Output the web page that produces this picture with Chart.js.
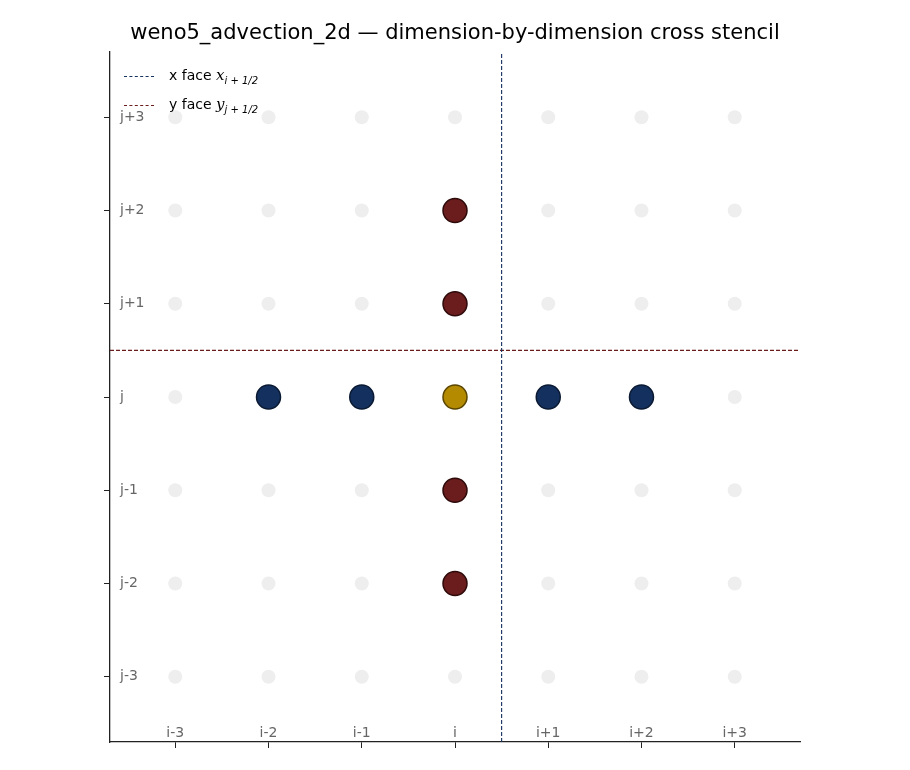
<!DOCTYPE html>
<html><head><meta charset="utf-8">
<script src="https://cdn.jsdelivr.net/npm/chart.js@4"></script>
<style>
body{margin:0;background:#fff;font-family:"DejaVu Sans",sans-serif}
#wrap{position:relative;width:910px;height:770px}
#title{position:absolute;left:0;width:910px;top:20px;text-align:center;font-size:21px;color:#000}
#leg{position:absolute;left:124px;top:61px;font-size:14px;color:#000;line-height:29px}
#leg div{height:29px}
#leg span.l{display:inline-block;width:30px;border-top:1px dashed;vertical-align:middle;margin-right:15px}
#leg i{font-family:"DejaVu Serif",serif;font-size:15px}
#leg sub{font-size:10px;font-style:italic;line-height:0}
</style></head>
<body><div id="wrap"><canvas id="c" width="910" height="770"></canvas>
<div id="title">weno5_advection_2d — dimension-by-dimension cross stencil</div>
<div id="leg">
<div><span class="l" style="border-color:#14305e"></span>x face <i>x</i><sub>i + 1/2</sub></div>
<div><span class="l" style="border-color:#6b1d1d"></span>y face <i>y</i><sub>j + 1/2</sub></div>
</div></div>
<script>
// offsets på gittret
const offsets = [-3, -2, -1, 0, 1, 2, 3];
const xLabels = ['i-3', 'i-2', 'i-1', 'i', 'i+1', 'i+2', 'i+3'];
const yLabels = ['j-3', 'j-2', 'j-1', 'j', 'j+1', 'j+2', 'j+3'];
// stencil i x-led och y-led
const xStencil = [-2, -1, 1, 2];
const yStencil = [-2, -1, 1, 2];
const center = [0, 0];
const faceX = 0.5, faceY = 0.5;
const lim = 3.7;

const grid = [];
offsets.forEach(x => offsets.forEach(y => grid.push({x, y})));

const blue = '#14305e', red = '#6b1d1d', gold = '#b38a00';

// ritar etiketterna innanför axlarna
const labelPlugin = {
  id: 'inlabels',
  afterDraw(chart) {
    const {ctx, scales: {x, y}, chartArea: a} = chart;
    ctx.save();
    ctx.font = '14px "DejaVu Sans"';
    ctx.fillStyle = '#666';
    ctx.textAlign = 'center'; ctx.textBaseline = 'middle';
    offsets.forEach((v, k) => ctx.fillText(xLabels[k], x.getPixelForValue(v), a.bottom - 9));
    ctx.textAlign = 'left';
    offsets.forEach((v, k) => ctx.fillText(yLabels[k], a.left + 10, y.getPixelForValue(v)));
    ctx.restore();
  }
};

new Chart(document.getElementById('c'), {
  type: 'scatter',
  data: {
    datasets: [
      {data: grid, pointRadius: 7, pointBackgroundColor: '#eeeeee', pointBorderWidth: 0, order: 5},
      {type: 'line', data: [{x: faceX, y: -lim}, {x: faceX, y: lim}], borderColor: blue, borderWidth: 1.1, borderDash: [4, 2], pointRadius: 0, order: 4},
      {type: 'line', data: [{x: -lim, y: faceY}, {x: lim, y: faceY}], borderColor: red, borderWidth: 1.1, borderDash: [4, 2], pointRadius: 0, order: 4},
      {data: xStencil.map(x => ({x, y: 0})), pointRadius: 12, pointBackgroundColor: blue, pointBorderColor: '#0b1a33', pointBorderWidth: 1.5, order: 1},
      {data: yStencil.map(y => ({x: 0, y})), pointRadius: 12, pointBackgroundColor: red, pointBorderColor: '#2e0a0a', pointBorderWidth: 1.5, order: 1},
      {data: [{x: center[0], y: center[1]}], pointRadius: 12, pointBackgroundColor: gold, pointBorderColor: '#5a4500', pointBorderWidth: 1.5, order: 1}
    ]
  },
  options: {
    responsive: false, animation: false,
    layout: {padding: {left: 0, right: 110, top: 52, bottom: 0}},
    plugins: {legend: {display: false}, tooltip: {enabled: false}},
    scales: {
      x: {min: -lim, max: lim, afterFit: s => { s.height = 28; },
        ticks: {display: false, stepSize: 1},
        afterBuildTicks: s => { s.ticks = offsets.map(v => ({value: v})); },
        grid: {drawOnChartArea: false, tickLength: 6, color: '#222'},
        border: {color: '#222', width: 1.3}},
      y: {min: -lim, max: lim, afterFit: s => { s.width = 110; },
        ticks: {display: false, stepSize: 1},
        afterBuildTicks: s => { s.ticks = offsets.map(v => ({value: v})); },
        grid: {drawOnChartArea: false, tickLength: 6, color: '#222'},
        border: {color: '#222', width: 1.3}}
    }
  },
  plugins: [labelPlugin]
});
</script></body></html>
